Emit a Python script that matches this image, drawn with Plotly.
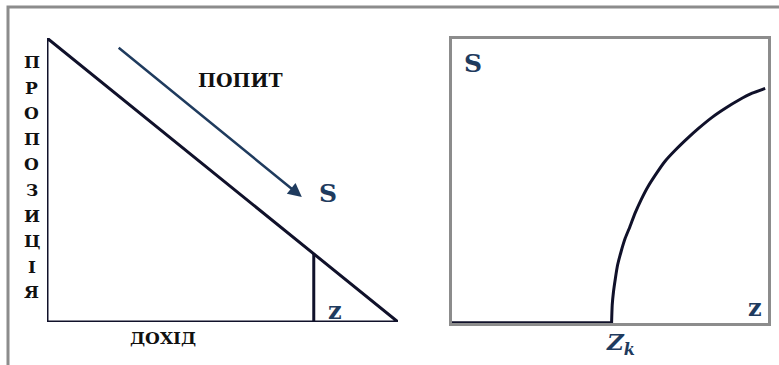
import plotly.graph_objects as go

# left panel: triangle (income vs proposition), units 0..100
tri_x = [0, 0, 100, 0]
tri_y = [100, 0, 0, 100]
z_cut_x = [76, 76]
z_cut_y = [0, 24]
arrow_start = (20, 97)
arrow_end = (72.6, 44)
side_letters = list("ПРОПОЗИЦІЯ")

# right panel: S(z) curve, units 0..10
flat_x = [0, 5.05]
flat_y = [0, 0]
curve_x = [5.05, 5.07, 5.11, 5.17, 5.24, 5.35, 5.48, 5.63, 5.79, 5.98, 6.20,
           6.47, 6.73, 7.07, 7.45, 7.81, 8.23, 8.65, 9.08, 9.50, 9.91]
curve_y = [0.0, 0.63, 1.10, 1.57, 2.04, 2.51, 2.98, 3.39, 3.86, 4.33, 4.80,
           5.27, 5.68, 6.09, 6.50, 6.86, 7.24, 7.56, 7.85, 8.09, 8.26]

W, H = 779, 365
LINE = "#10112a"
NAVY = "#1f3b5e"
GRAY = "#8c8c8c"
SERIF = "DejaVu Serif, Liberation Serif, serif"


def label(text, x, y, xref, yref, size, color):
    return dict(x=x, y=y, xref=xref, yref=yref, text=text, showarrow=False,
                xanchor="center", yanchor="middle",
                font=dict(family=SERIF, size=size, color=color))


fig = go.Figure()

fig.add_trace(go.Scatter(x=tri_x, y=tri_y, mode="lines",
                         line=dict(color=LINE, width=3), xaxis="x", yaxis="y"))
fig.add_trace(go.Scatter(x=z_cut_x, y=z_cut_y, mode="lines",
                         line=dict(color=LINE, width=3), xaxis="x", yaxis="y"))

fig.add_trace(go.Scatter(x=flat_x, y=flat_y, mode="lines",
                         line=dict(color=LINE, width=3.5), xaxis="x2", yaxis="y2"))
fig.add_trace(go.Scatter(x=curve_x, y=curve_y, mode="lines",
                         line=dict(color=LINE, width=3, shape="spline", smoothing=0.5),
                         xaxis="x2", yaxis="y2"))

ann = []
# arrow
ann.append(dict(x=arrow_end[0], y=arrow_end[1], ax=arrow_start[0], ay=arrow_start[1],
                xref="x", yref="y", axref="x", ayref="y", text="", showarrow=True,
                arrowhead=2, arrowsize=1.1, arrowwidth=2.5, arrowcolor=NAVY))
ann.append(label("<b>ПОПИТ</b>", 55, 85.2, "x", "y", 19, "#111111"))
ann.append(label("<b>S</b>", 80.1, 45.4, "x", "y", 25, NAVY))
ann.append(label("<b>ДОХІД</b>", 33, 1 - 338 / H, "x", "paper", 17, "#111111"))
ann.append(label("<b>z</b>", 82.1, 4.2, "x", "y", 24, NAVY))
for i, ch in enumerate(side_letters):
    ann.append(label("<b>%s</b>" % ch, 32 / W, 91.5 - i * 9.0, "paper", "y", 17, "#111111"))

ann.append(label("<b>S</b>", 0.66, 9.15, "x2", "y2", 25, NAVY))
ann.append(label("<b>z</b>", 9.59, 0.53, "x2", "y2", 24, NAVY))
ann.append(label("<b><i>Z</i></b><sub><b><i>k</i></b></sub>", 5.32, 1 - 343 / H,
                 "x2", "paper", 23, NAVY))

# outer frame (cut off at right and bottom)
shapes = [dict(type="rect", xref="paper", yref="paper", x0=8 / W, x1=1.05,
               y0=-0.05, y1=1 - 7 / H, line=dict(color=GRAY, width=3))]

hidden = dict(visible=False)
fig.update_layout(
    width=W, height=H, margin=dict(l=0, r=0, t=0, b=0),
    paper_bgcolor="white", plot_bgcolor="rgba(0,0,0,0)", showlegend=False,
    xaxis=dict(domain=[47 / W, 398 / W], range=[0, 100], **hidden),
    yaxis=dict(domain=[1 - 322 / H, 1 - 38 / H], range=[0, 100], **hidden),
    xaxis2=dict(domain=[452 / W, 768 / W], range=[0, 10], showline=True, mirror=True,
                linecolor=GRAY, linewidth=3, showgrid=False, zeroline=False,
                showticklabels=False, ticks="", layer="below traces", anchor="y2"),
    yaxis2=dict(domain=[1 - 323 / H, 1 - 39 / H], range=[0, 10], showline=True, mirror=True,
                linecolor=GRAY, linewidth=3, showgrid=False, zeroline=False,
                showticklabels=False, ticks="", layer="below traces", anchor="x2"),
    annotations=ann, shapes=shapes,
)

# page body has a default margin; drop it so the figure fills the window
fig.write_html("out.html", config={"displayModeBar": False},
               post_script="document.body.style.margin='0';")
